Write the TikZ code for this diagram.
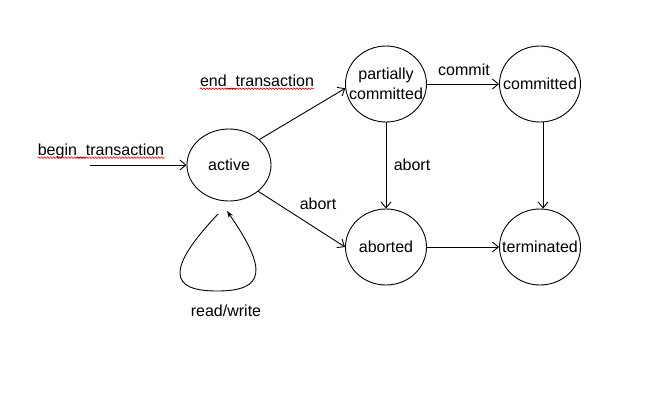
\documentclass[tikz,border=0pt]{standalone}
\usepackage{fontspec}
\setmainfont{Liberation Sans}
\usetikzlibrary{shapes.geometric,arrows.meta,decorations.pathmorphing}
\begin{document}
\begin{tikzpicture}[x=1pt,y=-1pt,
  state/.style={draw,ellipse,line width=0.9pt,inner xsep=-20pt,inner ysep=-12pt,minimum width=81pt,minimum height=76pt,align=center,font=\fontsize{16}{20}\selectfont},
  lbl/.style={inner sep=0pt,font=\fontsize{16}{18}\selectfont},
  conn/.style={line width=0.9pt,-{Straight Barb[length=6pt,width=10pt]}},
  wavy/.style={red,line width=0.6pt,decorate,decoration={snake,segment length=3pt,amplitude=0.8pt}}]
\useasboundingbox[fill=white] (0,0) rectangle (664,416);
\node[state,minimum width=84pt,minimum height=72pt] (active) at (229,165) {active};
\node[state] (pc) at (386,84) {partially\\committed};
\node[state] (committed) at (540,84) {committed};
\node[state] (aborted) at (386,247) {aborted};
\node[state] (terminated) at (540,247) {terminated};
\coordinate (bt) at (90,165);
\node[lbl] (btl) at (101,151) {begin\_transaction};
\node[lbl] (etl) at (257,82) {end\_transaction};
\node[lbl] (ab1) at (318,204) {abort};
\node[lbl] (cm) at (464,70) {commit};
\node[lbl] (ab2) at (412,165) {abort};
\node[lbl] (rw) at (226,311) {read/write};
\draw[wavy] ([yshift=-2.5pt]btl.base west) -- ([yshift=-2.5pt]btl.base east);
\draw[wavy] ([yshift=-2.5pt]etl.base west) -- ([yshift=-2.5pt]etl.base east);
\draw[conn] (bt) -- (active.west);
\draw[conn] (active.40) -- (pc.186);
\draw[conn] (active.-42) -- (aborted.west);
\draw[conn] (pc.east) -- (committed.west);
\draw[conn] (pc.south) -- (aborted.north);
\draw[conn] ([xshift=3pt]committed.south) -- ([xshift=3pt]terminated.north);
\draw[conn] (aborted.east) -- (terminated.west);
\coordinate (ls) at (218,214);
\coordinate (le) at (227,211);
\draw[line width=0.9pt,-{Stealth[length=7pt,width=5pt]}] (ls) .. controls (165,270) and (170,291) .. (217,291) .. controls (265,291) and (268,270) .. (le);
\end{tikzpicture}
\end{document}
